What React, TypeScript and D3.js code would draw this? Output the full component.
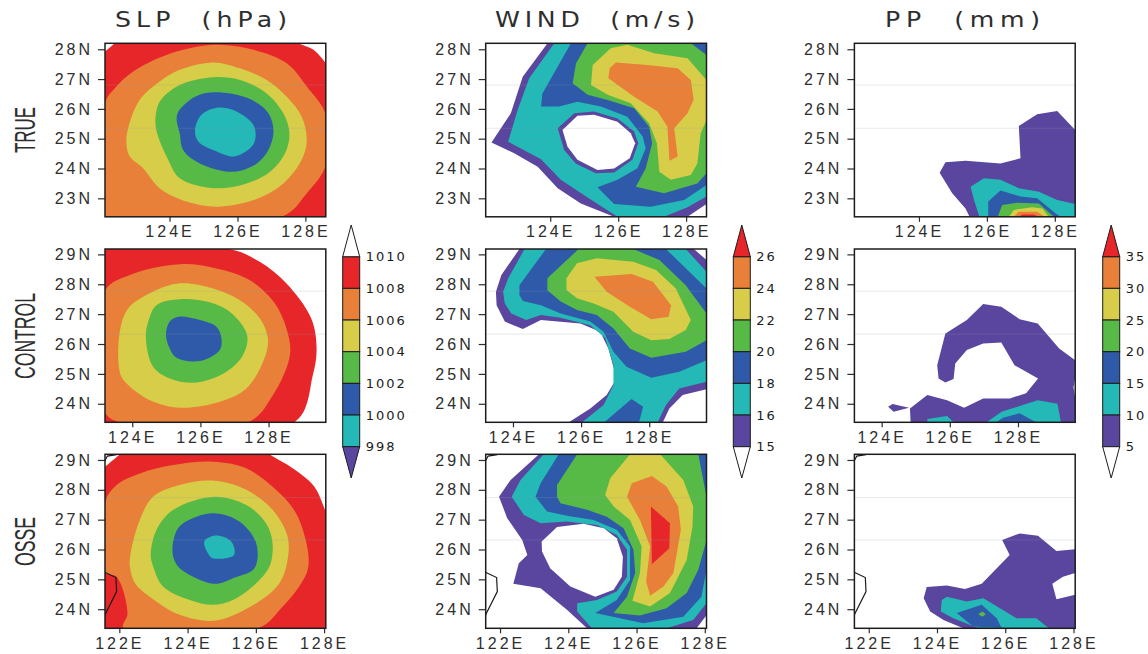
import React, { useEffect, useRef } from 'react';
import * as d3 from 'd3';

type Ring = number[][];
// a region is [colour bin, outline in lon/lat], painted in order. bin -1 is a white hole
type Region = [number, Ring];

// Bins from low to high, same order for all three variables
const binColors = ['#5a469f', '#24b8b6', '#2f5aa9', '#58ba46', '#d8cd49', '#e8803a', '#e7262a'];

const columnTitles = ['SLP (hPa)', 'WIND (m/s)', 'PP (mm)'];
const rowTitles = ['TRUE', 'CONTROL', 'OSSE'];
const slpLabels = ['1010', '1008', '1006', '1004', '1002', '1000', '998'];
const windLabels = ['26', '24', '22', '20', '18', '16', '15'];
const ppLabels = ['35', '30', '25', '20', '15', '10', '5'];

const lonDomains = [[122.1, 128.6], [123.2, 129.68], [121.58, 128.05]];
const latDomains = [[22.38, 28.2], [23.38, 29.18], [23.36, 29.19]];
const lonTicks = [[124, 126, 128], [124, 126, 128], [122, 124, 126, 128]];
const latTicks = [[23, 24, 25, 26, 27, 28], [24, 25, 26, 27, 28, 29], [24, 25, 26, 27, 28, 29]];
// faint horizontal streaks that run across each map
const streakLats = [[26.8, 25.35], [27.77, 26.33], [27.74, 26.32]];

const coastSouth: Ring = [[121.5, 25.26], [121.59, 25.23], [121.9, 25.06], [121.92, 24.59], [121.59, 23.84], [121.55, 23.7]];
const coastNorth: Ring = [[121.55, 28.9], [121.58, 28.98], [121.65, 29.13], [121.92, 29.18]];

const slpTrue: Region[] = [
  [6, [[121.9, 27.72], [122.1, 27.92], [122.39, 28.2], [122.6, 28.4], [127.6, 28.4], [127.8, 28.2], [128.24, 27.98], [128.6, 27.53], [128.8, 27.2], [128.8, 22.2], [121.9, 22.2]]],
  [5, [[122.1, 26.19], [122.39, 26.69], [122.93, 27.25], [123.91, 27.81], [125.29, 28.15], [126.47, 27.98], [127.45, 27.53], [128.04, 26.75], [128.6, 25.8], [128.6, 24.12], [128.04, 23.17], [127.3, 22.38], [122.1, 22.38]]],
  [4, [[122.73, 24.85], [122.78, 25.35], [123.12, 26.3], [123.71, 26.92], [124.3, 27.31], [125.29, 27.56], [126.07, 27.36], [126.86, 26.97], [127.45, 26.41], [127.89, 25.74], [128.04, 24.96], [127.89, 24.29], [127.35, 23.5], [126.47, 22.94], [125.39, 22.72], [124.5, 22.89], [123.71, 23.34], [123.22, 24.01], [122.83, 24.4]]],
  [3, [[123.6, 25.35], [123.62, 25.96], [123.76, 26.32], [124.3, 26.8], [125.29, 27.06], [126.07, 26.97], [126.86, 26.52], [127.35, 25.85], [127.53, 25.18], [127.4, 24.51], [126.96, 23.89], [126.27, 23.5], [125.29, 23.34], [124.3, 23.67], [123.96, 24.29]]],
  [2, [[124.21, 25.63], [124.26, 25.91], [124.75, 26.41], [125.34, 26.56], [126.37, 26.33], [126.91, 25.85], [127.06, 25.24], [126.91, 24.62], [126.57, 24.17], [125.88, 23.89], [124.89, 24.17], [124.4, 24.62], [124.3, 25.18]]],
  [1, [[124.75, 25.29], [124.94, 25.8], [125.39, 26.04], [125.88, 25.96], [126.47, 25.46], [126.52, 24.96], [126.37, 24.68], [125.88, 24.4], [125.39, 24.57], [124.85, 24.9]]],
];

const windTrue: Region[] = [
  [0, [[122.27, 24.87], [122.84, 25.85], [123.19, 27.08], [123.92, 28.2], [128.6, 28.2], [128.6, 22.81], [128.04, 22.38], [125.88, 22.38], [124.9, 22.83], [124.22, 23.34], [123.63, 24.06], [122.94, 24.51]]],
  [1, [[122.76, 24.9], [123.04, 25.96], [123.38, 27.03], [124.12, 28.2], [128.6, 28.2], [128.6, 23.06], [128.04, 22.7], [127.35, 22.38], [125.98, 22.38], [125.1, 23.03], [124.31, 23.62], [123.73, 24.31]]],
  [2, [[123.73, 26.08], [123.77, 26.52], [124.61, 28.2], [128.6, 28.2], [128.6, 23.45], [127.94, 22.94], [126.96, 22.72], [125.88, 22.81], [125.39, 23.37], [125.98, 23.62], [126.57, 24.01], [126.81, 24.68], [126.72, 25.07], [126.27, 25.74], [125.49, 26.08], [124.8, 26.24], [124.26, 26.08]]],
  [3, [[124.66, 26.86], [124.76, 27.53], [125.1, 28.2], [128.14, 28.2], [128.6, 27.81], [128.6, 23.84], [128.33, 23.5], [127.35, 23.17], [126.52, 23.39], [126.81, 24.0], [127.0, 24.85], [126.91, 25.4], [126.47, 26.02], [125.69, 26.3], [125.1, 26.47]]],
  [4, [[125.2, 26.8], [125.25, 27.47], [125.78, 28.03], [126.27, 28.15], [127.06, 27.87], [128.04, 27.7], [128.6, 26.97], [128.6, 25.63], [128.43, 25.18], [128.33, 24.17], [128.14, 23.78], [127.55, 23.62], [127.21, 23.89], [127.14, 24.85], [126.91, 25.52], [126.37, 26.19], [125.69, 26.47]]],
  [5, [[125.71, 27.03], [125.75, 27.36], [125.93, 27.56], [126.86, 27.47], [127.75, 27.36], [128.14, 26.97], [128.22, 26.3], [128.04, 25.85], [127.65, 25.35], [127.75, 24.4], [127.51, 24.26], [127.45, 25.4], [127.16, 25.91], [126.47, 26.41]]],
  [0, [[124.22, 25.35], [124.71, 25.85], [125.29, 25.91], [125.98, 25.68], [126.47, 25.24], [126.59, 24.85], [126.42, 24.29], [125.88, 23.87], [125.34, 23.84], [124.75, 24.17], [124.41, 24.62]]],
  [-1, [[124.36, 25.29], [124.8, 25.77], [125.29, 25.8], [125.98, 25.57], [126.37, 25.18], [126.5, 24.85], [126.34, 24.34], [125.88, 24.0], [125.39, 23.95], [124.8, 24.29], [124.51, 24.73]]],
];

const ppTrue: Region[] = [
  [0, [[124.61, 23.86], [124.78, 24.21], [125.37, 24.26], [126.4, 24.17], [126.99, 24.34], [126.94, 25.43], [127.48, 25.82], [128.07, 25.93], [128.6, 25.29], [128.6, 22.38], [125.49, 22.38], [125.37, 22.66], [124.98, 23.17]]],
  [1, [[125.52, 23.39], [125.91, 23.67], [126.4, 23.62], [126.94, 23.34], [127.53, 23.22], [128.07, 22.94], [128.6, 22.81], [128.6, 22.38], [125.78, 22.38], [125.62, 22.94]]],
  [2, [[126.04, 22.89], [126.4, 23.26], [126.99, 23.06], [127.48, 23.0], [128.02, 22.5], [128.17, 22.38], [126.04, 22.38]]],
  [3, [[126.32, 22.38], [126.45, 22.78], [126.89, 22.85], [127.53, 22.83], [127.97, 22.38]]],
  [4, [[126.65, 22.38], [126.79, 22.61], [127.33, 22.7], [127.63, 22.66], [127.82, 22.38]]],
  [5, [[126.79, 22.38], [126.94, 22.55], [127.48, 22.55], [127.7, 22.38]]],
  [6, [[126.94, 22.38], [127.04, 22.46], [127.38, 22.46], [127.53, 22.38]]],
];

const slpControl: Region[] = [
  [6, [[123.18, 29.18], [126.85, 29.18], [127.74, 28.75], [128.52, 28.03], [129.25, 26.86], [129.41, 25.85], [129.3, 24.96], [128.76, 23.38], [123.18, 23.38]]],
  [5, [[123.18, 27.75], [123.93, 28.31], [125.4, 28.67], [126.47, 28.53], [127.44, 28.14], [128.22, 27.3], [128.6, 26.19], [128.61, 25.52], [128.13, 24.29], [127.4, 23.38], [123.64, 23.38], [123.18, 23.75]]],
  [4, [[123.62, 26.3], [123.88, 27.19], [124.61, 27.75], [125.4, 28.03], [126.37, 27.86], [127.15, 27.47], [127.74, 26.86], [127.98, 26.19], [127.88, 25.52], [127.35, 24.51], [126.57, 24.07], [125.4, 23.87], [124.52, 24.12], [123.88, 24.63], [123.66, 24.96]]],
  [3, [[124.4, 26.19], [124.47, 26.75], [124.71, 27.3], [125.4, 27.5], [126.18, 27.42], [126.86, 27.08], [127.37, 26.3], [127.25, 25.63], [126.76, 25.07], [125.88, 24.71], [125.1, 24.85], [124.61, 25.24]]],
  [2, [[124.99, 26.3], [125.1, 26.75], [125.35, 26.91], [125.98, 26.8], [126.47, 26.58], [126.61, 26.24], [126.57, 25.8], [125.98, 25.43], [125.3, 25.54], [125.1, 25.85]]],
];

const windControl: Region[] = [
  [0, [[123.5, 27.75], [123.66, 28.31], [124.19, 29.18], [129.31, 29.18], [129.68, 28.81], [129.68, 24.49], [128.98, 24.29], [128.59, 23.84], [128.4, 23.38], [125.64, 23.38], [126.27, 23.84], [126.75, 24.29], [127.04, 24.85], [126.8, 25.85], [126.56, 26.41], [125.98, 26.69], [124.82, 26.8], [124.29, 26.5], [123.76, 26.75], [123.52, 27.3]]],
  [1, [[123.71, 27.75], [123.86, 28.2], [124.34, 29.18], [129.07, 29.18], [129.68, 28.42], [129.68, 24.74], [128.88, 24.51], [128.49, 23.96], [128.25, 23.38], [126.03, 23.38], [126.66, 23.96], [126.95, 24.63], [126.95, 25.3], [126.71, 26.19], [126.27, 26.63], [125.4, 26.88], [124.82, 26.97], [124.39, 26.8], [123.95, 27.02], [123.76, 27.36]]],
  [2, [[124.19, 27.97], [124.97, 29.18], [128.49, 29.18], [129.68, 27.86], [129.68, 25.46], [128.88, 25.07], [128.06, 24.87], [127.33, 25.24], [126.95, 25.74], [126.66, 26.41], [126.27, 26.75], [125.4, 27.02], [124.82, 27.3], [124.29, 27.44], [124.19, 27.64]]],
  [2, [[126.68, 23.38], [127.48, 24.16], [127.82, 23.9], [127.7, 23.38]]],
  [3, [[125.01, 28.2], [125.93, 29.18], [127.53, 29.18], [128.3, 28.81], [129.07, 27.97], [129.68, 27.02], [129.68, 26.13], [129.07, 25.74], [128.06, 25.54], [127.43, 25.85], [126.95, 26.52], [126.46, 26.97], [125.88, 27.14], [125.4, 27.42], [125.01, 27.8]]],
  [4, [[125.57, 28.2], [125.88, 28.7], [126.46, 28.87], [127.53, 28.75], [128.2, 28.48], [128.78, 27.86], [129.22, 26.8], [129.07, 26.47], [128.59, 26.17], [128.06, 26.13], [127.53, 26.41], [126.95, 27.08], [126.37, 27.36], [125.88, 27.53], [125.57, 27.81]]],
  [5, [[126.39, 28.25], [127.48, 28.34], [128.11, 28.08], [128.64, 27.3], [128.57, 26.91], [128.06, 26.83], [127.43, 27.25], [126.75, 27.75]]],
];

const ppControl: Region[] = [
  [0, [[124.19, 23.9], [124.32, 23.99], [124.8, 23.87], [124.35, 23.73]]],
  [0, [[124.85, 23.38], [124.83, 23.84], [125.34, 24.29], [125.92, 24.12], [126.42, 23.87], [126.98, 24.18], [127.76, 24.18], [128.24, 24.35], [128.59, 24.85], [127.9, 25.29], [127.51, 26.05], [126.98, 26.02], [126.5, 25.8], [126.16, 25.35], [126.11, 24.83], [125.87, 24.71], [125.67, 24.85], [125.63, 25.29], [125.87, 26.35], [126.5, 26.8], [126.98, 27.34], [127.51, 27.25], [128.05, 26.83], [128.58, 26.69], [129.21, 25.85], [129.68, 25.46], [129.68, 23.38]]],
  [-1, [[129.63, 24.55], [129.68, 24.85], [129.68, 24.2]]],
  [1, [[125.34, 23.49], [125.92, 23.59], [126.11, 23.38], [125.34, 23.38]]],
  [1, [[127.08, 23.38], [127.52, 23.73], [128.14, 23.96], [128.58, 24.12], [129.16, 24.0], [129.26, 23.38]]],
  [2, [[127.37, 23.38], [127.56, 23.53], [128.05, 23.68], [128.53, 23.38]]],
];

const slpOsse: Region[] = [
  [6, [[121.4, 28.6], [121.59, 28.78], [122.02, 29.19], [122.2, 29.36], [126.2, 29.36], [126.4, 29.19], [127.08, 28.72], [127.71, 28.11], [128.05, 27.27], [128.2, 26.9], [128.2, 23.2], [121.4, 23.2]]],
  [5, [[121.59, 27.6], [121.92, 28.16], [122.6, 28.55], [123.58, 28.83], [124.74, 28.94], [125.72, 28.72], [126.59, 28.0], [127.18, 27.21], [127.52, 25.99], [127.52, 25.32], [127.27, 24.76], [126.79, 24.09], [126.06, 23.36], [122.12, 23.36], [122.24, 23.87], [121.92, 25.09], [121.59, 25.23]]],
  [4, [[122.31, 25.43], [122.33, 25.87], [122.6, 26.99], [122.99, 27.77], [123.77, 28.16], [124.74, 28.31], [125.72, 28.0], [126.49, 27.33], [126.93, 26.43], [126.93, 25.65], [126.69, 24.87], [126.01, 24.2], [124.84, 23.62], [123.77, 23.81], [122.89, 24.42], [122.46, 24.87]]],
  [3, [[122.92, 25.82], [123.09, 26.66], [123.58, 27.33], [124.79, 27.77], [125.72, 27.49], [126.3, 26.88], [126.49, 26.21], [126.4, 25.43], [126.01, 24.87], [125.33, 24.31], [124.74, 24.15], [124.06, 24.31], [123.28, 24.76], [122.99, 25.43]]],
  [2, [[123.56, 25.88], [123.72, 26.71], [124.26, 27.1], [124.84, 27.21], [125.52, 26.94], [126.01, 26.21], [125.96, 25.37], [125.33, 25.04], [124.82, 24.85], [124.16, 25.09], [123.72, 25.43]]],
  [1, [[124.49, 26.27], [124.82, 26.47], [125.28, 26.27], [125.36, 25.82], [124.74, 25.71], [124.6, 25.87]]],
];

const windOsse: Region[] = [
  [0, [[121.97, 27.77], [122.31, 28.33], [123.14, 29.19], [128.05, 29.19], [128.05, 23.8], [127.76, 23.36], [124.55, 23.36], [123.96, 23.98], [123.19, 24.7], [122.39, 24.85], [122.55, 25.54], [122.8, 25.82], [122.65, 26.32], [122.21, 27.05]]],
  [1, [[122.34, 27.77], [122.6, 28.33], [123.28, 29.19], [128.05, 29.19], [128.05, 24.2], [127.66, 23.64], [126.88, 23.36], [124.69, 23.36], [124.26, 23.92], [124.26, 24.2], [124.84, 24.31], [125.42, 24.59], [125.72, 25.09], [125.72, 25.99], [125.42, 26.49], [124.84, 26.82], [123.96, 26.94], [123.19, 26.88], [122.7, 27.16]]],
  [2, [[123.04, 27.77], [123.19, 28.22], [123.72, 29.19], [128.05, 29.19], [128.05, 25.32], [127.9, 24.42], [127.37, 23.75], [126.2, 23.53], [124.79, 23.87], [125.42, 24.31], [125.81, 24.98], [125.81, 26.1], [125.42, 26.66], [124.74, 26.99], [123.96, 27.13], [123.38, 27.27]]],
  [3, [[123.67, 28.16], [124.26, 29.19], [127.81, 29.19], [128.05, 27.77], [128.05, 26.32], [127.81, 25.32], [127.47, 24.54], [126.88, 24.03], [126.1, 23.79], [125.33, 23.87], [125.72, 24.42], [125.96, 25.21], [125.91, 25.99], [125.62, 26.71], [125.13, 27.1], [124.55, 27.33], [123.77, 27.55], [123.67, 27.77]]],
  [4, [[125.08, 27.83], [125.23, 28.39], [125.81, 29.19], [126.69, 29.19], [127.37, 28.33], [127.66, 27.44], [127.64, 26.77], [127.47, 25.65], [126.98, 24.54], [126.4, 24.09], [125.88, 24.28], [126.1, 25.21], [126.15, 26.1], [125.81, 26.99], [125.33, 27.44]]],
  [5, [[125.72, 27.77], [125.86, 28.22], [126.45, 28.46], [126.88, 28.11], [127.22, 27.44], [127.3, 26.66], [127.08, 25.21], [126.79, 24.76], [126.4, 24.45], [126.28, 24.93], [126.4, 26.1], [126.1, 26.99]]],
  [6, [[126.42, 27.44], [126.98, 26.88], [126.96, 26.04], [126.45, 25.51]]],
  [-1, [[123.22, 26.27], [123.67, 26.75], [124.45, 26.86], [125.04, 26.71], [125.42, 26.38], [125.6, 25.76], [125.57, 25.09], [125.33, 24.65], [124.79, 24.42], [124.06, 24.76], [123.47, 25.37], [123.23, 25.93]]],
];

const ppOsse: Region[] = [
  [0, [[123.61, 24.37], [123.7, 24.74], [124.29, 24.79], [124.82, 24.68], [125.31, 24.85], [126.13, 25.82], [125.91, 26.32], [126.43, 26.54], [126.96, 26.46], [127.5, 25.95], [128.05, 26.01], [128.05, 23.36], [124.77, 23.36], [124.19, 23.64], [123.8, 23.92]]],
  [-1, [[127.38, 24.85], [127.69, 25.09], [128.05, 25.21], [128.05, 24.48], [127.5, 24.33]]],
  [1, [[124.11, 23.92], [124.14, 24.31], [124.29, 24.42], [124.87, 24.26], [125.36, 24.37], [126.33, 23.7], [126.91, 23.7], [127.28, 23.36], [125.84, 23.36], [125.16, 23.39], [124.48, 23.7]]],
  [2, [[124.58, 23.87], [125.31, 24.15], [125.75, 23.7], [125.89, 23.38], [125.06, 23.42]]],
  [3, [[125.21, 23.83], [125.33, 23.92], [125.43, 23.83], [125.33, 23.75]]],
];

const panelRegions = [
  [slpTrue, windTrue, ppTrue],
  [slpControl, windControl, ppControl],
  [slpOsse, windOsse, ppOsse],
];

const colorbars = [
  { labels: slpLabels, bins: [5, 4, 3, 2, 1], boxTop: 6, topTip: -1, lowTip: 0 },
  { labels: windLabels, bins: [4, 3, 2, 1, 0], boxTop: 5, topTip: 6, lowTip: -1 },
  { labels: ppLabels, bins: [4, 3, 2, 1, 0], boxTop: 5, topTip: 6, lowTip: -1 },
];

const FONT = '"Liberation Sans", sans-serif';
const WIDE_FONT = '"DejaVu Sans", sans-serif';
const INK = '#2e2e2e';
const fillOf = (bin: number) => (bin < 0 ? '#ffffff' : binColors[bin]);

const App = () => {
  const svgRef = useRef<SVGSVGElement>(null);

  useEffect(() => {
    const svg = d3.select(svgRef.current);
    svg.selectAll('*').remove();

    const colX = [105, 485.7, 854.4];
    const rowY = [[43.3, 216.8], [249, 422.3], [454.3, 628.3]];
    const panelW = 220.8;
    const barX = [342.7, 733.3, 1102.7];
    const titleX = [[115, 287], [495, 695], [885, 1040]];
    const rowLabelY = [[107, 153], [293, 379], [517, 566]];

    // column titles, glyphs stretched a bit to get the plotter look
    const titleStretch = 1.2;
    columnTitles.forEach((t, i) => {
      svg.append('text')
        .attr('transform', `translate(${titleX[i][0]},27) scale(${titleStretch},1)`)
        .attr('font-family', WIDE_FONT)
        .attr('font-size', 21)
        .attr('fill', INK)
        .attr('textLength', (titleX[i][1] - titleX[i][0]) / titleStretch)
        .attr('lengthAdjust', 'spacing')
        .attr('xml:space', 'preserve')
        .text(t.replace(' ', '  '));
    });

    // row titles, tall and squeezed
    rowTitles.forEach((t, i) => {
      const [y0, y1] = rowLabelY[i];
      svg.append('text')
        .attr('transform', `translate(35,${y1}) rotate(-90)`)
        .attr('font-family', FONT)
        .attr('font-size', 30)
        .attr('fill', INK)
        .attr('textLength', y1 - y0)
        .attr('lengthAdjust', 'spacingAndGlyphs')
        .text(t);
    });

    panelRegions.forEach((row, r) => {
      row.forEach((regions, c) => {
        const x = d3.scaleLinear().domain(lonDomains[r]).range([colX[c], colX[c] + panelW]);
        const y = d3.scaleLinear().domain(latDomains[r]).range([rowY[r][1], rowY[r][0]]);
        const clipId = `clip-${r}-${c}`;

        svg.append('clipPath').attr('id', clipId)
          .append('rect')
          .attr('x', colX[c])
          .attr('y', rowY[r][0])
          .attr('width', panelW)
          .attr('height', rowY[r][1] - rowY[r][0]);

        const g = svg.append('g').attr('clip-path', `url(#${clipId})`);
        // pressure contours are round, wind and rain have sharp tips
        const closed = d3.line<number[]>()
          .x(d => x(d[0]))
          .y(d => y(d[1]))
          .curve(c === 0 ? d3.curveCatmullRomClosed.alpha(0.5) : d3.curveLinearClosed);
        const open = d3.line<number[]>().x(d => x(d[0])).y(d => y(d[1]));

        g.selectAll('path.band')
          .data(regions)
          .join('path')
          .attr('class', 'band')
          .attr('d', d => closed(d[1]))
          .attr('fill', d => fillOf(d[0]));

        // faint streaks
        g.selectAll('line.streak')
          .data(streakLats[r])
          .join('line')
          .attr('class', 'streak')
          .attr('x1', colX[c])
          .attr('x2', colX[c] + panelW)
          .attr('y1', d => y(d))
          .attr('y2', d => y(d))
          .attr('stroke', '#8f9fb0')
          .attr('stroke-opacity', 0.22)
          .attr('stroke-width', 1);

        // coast only falls inside the bottom row
        if (r === 2) {
          [coastSouth, coastNorth].forEach(coast => {
            g.append('path')
              .attr('d', open(coast))
              .attr('fill', 'none')
              .attr('stroke', '#1a1a1a')
              .attr('stroke-width', 1.2);
          });
        }

        const left = svg.append('g')
          .attr('transform', `translate(${colX[c]},0)`)
          .call(d3.axisLeft(y).tickValues(latTicks[r]).tickFormat(d => `${d}N`).tickSize(7).tickPadding(5));
        const bottom = svg.append('g')
          .attr('transform', `translate(0,${rowY[r][1]})`)
          .call(d3.axisBottom(x).tickValues(lonTicks[r]).tickFormat(d => `${d}E`).tickSize(5).tickPadding(4));

        [left, bottom].forEach(axis => {
          axis.select('.domain').remove();
          axis.attr('font-family', FONT).attr('font-size', 16);
          axis.selectAll('line').attr('stroke', INK).attr('stroke-width', 1.2);
          axis.selectAll('text').attr('fill', INK).attr('letter-spacing', 3);
        });

        svg.append('rect')
          .attr('x', colX[c])
          .attr('y', rowY[r][0])
          .attr('width', panelW)
          .attr('height', rowY[r][1] - rowY[r][0])
          .attr('fill', 'none')
          .attr('stroke', '#1c1c1c')
          .attr('stroke-width', 1.5);
      });
    });

    // colour bars between the rows
    const barW = 17;
    colorbars.forEach((bar, i) => {
      const yBar = d3.scalePoint<string>().domain(bar.labels).range([256.7, 446.7]);
      const bx = barX[i];
      const top = yBar(bar.labels[0]) as number;
      const low = yBar(bar.labels[6]) as number;
      const step = yBar.step();
      const boxBins = [bar.boxTop, ...bar.bins];

      const g = svg.append('g');
      g.selectAll('rect')
        .data(boxBins)
        .join('rect')
        .attr('x', bx)
        .attr('y', (_, k) => yBar(bar.labels[k]) as number)
        .attr('width', barW)
        .attr('height', step)
        .attr('fill', d => fillOf(d))
        .attr('stroke', '#1c1c1c')
        .attr('stroke-width', 1);

      const tip = d3.line();
      g.append('path')
        .attr('d', tip([[bx, top], [bx + barW / 2, 225], [bx + barW, top]]) + 'Z')
        .attr('fill', fillOf(bar.topTip))
        .attr('stroke', '#1c1c1c')
        .attr('stroke-width', 1);
      g.append('path')
        .attr('d', tip([[bx, low], [bx + barW / 2, 478], [bx + barW, low]]) + 'Z')
        .attr('fill', fillOf(bar.lowTip))
        .attr('stroke', '#1c1c1c')
        .attr('stroke-width', 1);

      g.selectAll('text')
        .data(bar.labels)
        .join('text')
        .attr('x', bx + barW + 6)
        .attr('y', d => yBar(d) as number)
        .attr('dy', '0.36em')
        .attr('font-family', WIDE_FONT)
        .attr('font-size', 13)
        .attr('letter-spacing', 2)
        .attr('fill', '#1c1c1c')
        .text(d => d);
    });
  }, []);

  return <svg ref={svgRef} width={1148} height={654} style={{ position: 'absolute', left: 0, top: 0, background: '#fff' }} />;
};

export default App;
